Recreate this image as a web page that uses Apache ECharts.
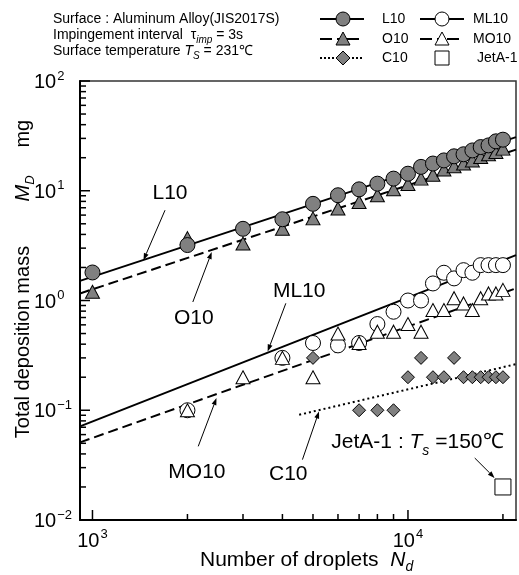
<!DOCTYPE html>
<html><head><meta charset="utf-8">
<script src="https://cdn.jsdelivr.net/npm/echarts@6/dist/echarts.min.js"></script>
<style>html,body{margin:0;padding:0;background:#fff}#c{width:519px;height:575px}</style>
</head><body><div id="c"></div>
<script>
// ---------- data ----------
const N_ALL = [1000,2000,3000,4000,5000,6000,7000,8000,9000,10000,11000,12000,13000,14000,15000,16000,17000,18000,19000,20000];
const L10 = [1.8,3.2,4.5,5.5,7.6,9.1,10.3,11.6,12.9,14.3,16.5,17.7,18.9,20.6,21.5,23.3,25,25.9,28.2,29.2];
const O10 = [1.2,3.7,3.3,4.5,5.6,6.9,7.9,9.1,10.3,11.5,12.9,14.0,15.6,16.7,17.7,18.9,20.3,21.5,22.5,24.2];
const ML10_N = [2000,4000,5000,6000,7000,8000,9000,10000,11000,12000,13000,14000,15000,16000,17000,18000,19000,20000];
const ML10 = [0.1,0.3,0.41,0.39,0.41,0.61,0.79,1.0,1.0,1.43,1.79,1.59,1.89,1.79,2.1,2.1,2.1,2.1];
const MO10_N = [2000,3000,4000,5000,6000,7000,8000,9000,10000,11000,12000,13000,14000,15000,16000,17000,18000,19000,20000];
const MO10 = [0.1,0.2,0.3,0.2,0.5,0.41,0.52,0.52,0.61,0.52,0.82,0.82,1.05,0.94,0.82,1.05,1.16,1.16,1.25];
const C10_N = [5000,7000,8000,9000,10000,11000,12000,13000,14000,15000,16000,17000,18000,19000,20000];
const C10 = [0.3,0.1,0.1,0.1,0.2,0.3,0.2,0.2,0.3,0.2,0.2,0.2,0.2,0.2,0.2];
const JETA_N = [20000];
const JETA = [0.02];
// fitted power-law lines (end points in data units)
const L10_FIT = [[913,1.51],[22000,30.8]];
const O10_FIT = [[913,1.16],[22000,23.7]];
const ML10_FIT = [[913,0.0713],[22000,2.59]];
const MO10_FIT = [[913,0.051],[22000,1.29]];
const C10_FIT = [[4520,0.091],[22000,0.263]];
// axes
const X_MIN = 913, X_MAX = 22000, Y_MIN = 0.01, Y_MAX = 100;
const X_MAJOR = [1000,10000];
const X_MINOR = [2000,3000,4000,5000,6000,7000,8000,9000,20000];
const Y_MAJOR = [0.01,0.1,1,10,100];
const Y_MINOR = [0.02,0.03,0.04,0.05,0.06,0.07,0.08,0.09,0.2,0.3,0.4,0.5,0.6,0.7,0.8,0.9,2,3,4,5,6,7,8,9,20,30,40,50,60,70,80,90];
// annotations: [text, textPos, arrowTail, arrowTip]
const ANNOT = [
  ['L10',  [1761,9.49],  [1698,6.65],  [1451,2.33]],
  ['O10',  [2095,0.693], [2080,0.969], [2388,2.76]],
  ['ML10', [4520,1.22],  [4101,0.943], [3591,0.343]],
  ['MO10', [2143,0.027], [2164,0.0469],[2472,0.129]],
  ['C10',  [4174,0.026], [4629,0.0355],[5224,0.0975]]
];
const JETA_NOTE = {pos:[10715,0.0486], tail:[16280,0.0367], tip:[18820,0.0242]};

// ---------- chart ----------
const FONT = '"Liberation Sans", Arial, Helvetica, sans-serif';
const GRAY = '#808080';
const zip = (xs, ys) => xs.map((x, i) => [x, ys[i]]);
function powLabel(v){
  const lg = Math.log10(v), e = Math.round(lg);
  if (Math.abs(lg - e) > 1e-6) return '';
  return '{b|10}{s|' + (e < 0 ? '\u2212' + (-e) : e) + '}';
}
const labelRich = {
  b:{fontSize:20, fontFamily:FONT, color:'#000', verticalAlign:'bottom'},
  s:{fontSize:13, fontFamily:FONT, color:'#000', verticalAlign:'bottom', padding:[0,0,10,1]}
};
const tickData = [
  ...X_MAJOR.map(v => [v, Y_MIN, 0, 1]), ...X_MINOR.map(v => [v, Y_MIN, 0, 0]),
  ...Y_MAJOR.map(v => [X_MIN, v, 1, 1]), ...Y_MINOR.map(v => [X_MIN, v, 1, 0])
];
function fitLine(name, data, type){
  return {name, type:'line', data, showSymbol:false, symbol:'none', z:2,
    lineStyle:{color:'#000', width:2, type}, silent:true};
}
function scat(name, data, symbol, size, fill){
  return {name, type:'scatter', data, symbol, symbolSize:size, z:3,
    itemStyle:{color:fill, borderColor:'#000', borderWidth:1, opacity:1}};
}
const chart = echarts.init(document.getElementById('c'), null, {renderer:'canvas'});
chart.setOption({
  animation:false,
  backgroundColor:'#fff',
  grid:{left:80, top:81, width:438, height:439, show:true, borderColor:'#333', borderWidth:1.5, containLabel:false},
  xAxis:{type:'log', logBase:10, min:X_MIN, max:X_MAX,
    axisLine:{show:true, lineStyle:{color:'#000', width:2}},
    axisTick:{show:false}, splitLine:{show:false}, minorTick:{show:false},
    axisLabel:{show:true, margin:8, formatter:powLabel, rich:labelRich, showMinLabel:true, showMaxLabel:true}},
  yAxis:{type:'log', logBase:10, min:Y_MIN, max:Y_MAX,
    axisLine:{show:true, lineStyle:{color:'#000', width:2}},
    axisTick:{show:false}, splitLine:{show:false},
    axisLabel:{show:true, margin:46, align:'left', formatter:powLabel, rich:labelRich}},
  series:[
    fitLine('L10 fit', L10_FIT, 'solid'),
    fitLine('O10 fit', O10_FIT, [10,5]),
    fitLine('ML10 fit', ML10_FIT, 'solid'),
    fitLine('MO10 fit', MO10_FIT, [10,5]),
    fitLine('C10 fit', C10_FIT, [2,3]),
    scat('O10', zip(N_ALL, O10), 'triangle', [14,13], GRAY),
    scat('L10', zip(N_ALL, L10), 'circle', 15, GRAY),
    scat('ML10', zip(ML10_N, ML10), 'circle', 15, '#fff'),
    scat('MO10', zip(MO10_N, MO10), 'triangle', [14,13], '#fff'),
    scat('C10', zip(C10_N, C10), 'diamond', 13, GRAY),
    scat('JetA-1', zip(JETA_N, JETA), 'rect', 16, '#fff'),
    {type:'custom', name:'ticks', data:tickData, z:5, silent:true,
      renderItem:function(params, api){
        const p = api.coord([api.value(0), api.value(1)]);
        const len = api.value(3) ? 10 : 6;
        const shape = api.value(2) === 0
          ? {x1:p[0], y1:p[1], x2:p[0], y2:p[1]-len}
          : {x1:p[0], y1:p[1], x2:p[0]+len, y2:p[1]};
        return {type:'line', shape, style:{stroke:'#000', lineWidth:1.5}};
      }}
  ]
});

// ---------- graphics (texts, legend, annotations) ----------
const g = [];
const txt = (x, y, text, size, rich, extra) => Object.assign({type:'text', x, y, z:10, style:Object.assign({
  text, fontSize:size, fontFamily:FONT, fill:'#000', verticalAlign:'middle', align:'left', rich:rich||{}}, extra||{})});
const sm = {
  n:{fontSize:14, fontFamily:FONT, verticalAlign:'bottom', padding:[0,0,3,0]},
  i:{fontSize:14, fontFamily:FONT, fontStyle:'italic', verticalAlign:'bottom', padding:[0,0,3,0]},
  sub:{fontSize:10, fontFamily:FONT, fontStyle:'italic', verticalAlign:'bottom'}
};
g.push(txt(53, 21, '{n|Surface : Aluminum Alloy(JIS2017S)}', 14, sm));
g.push(txt(53, 37, '{n|Impingement interval  \u03c4}{sub|imp}{n| = 3s}', 14, sm));
g.push(txt(53, 53, '{n|Surface temperature }{i|T}{sub|S}{n| = 231\u2103}', 14, sm));

// legend
function legLine(x1, x2, y, dash){ g.push({type:'line', z:10, shape:{x1, y1:y, x2, y2:y}, style:{stroke:'#000', lineWidth:2, lineDash:dash||null}}); }
function legCircle(cx, cy, fill){ g.push({type:'circle', z:11, shape:{cx, cy, r:7}, style:{fill, stroke:'#000', lineWidth:1}}); }
function legTri(cx, cy, fill){ g.push({type:'polygon', z:11, shape:{points:[[cx,cy-7],[cx+7,cy+6],[cx-7,cy+6]]}, style:{fill, stroke:'#000', lineWidth:1}}); }
function legDia(cx, cy, fill){ g.push({type:'polygon', z:11, shape:{points:[[cx,cy-7],[cx+7,cy],[cx,cy+7],[cx-7,cy]]}, style:{fill, stroke:'#000', lineWidth:1}}); }
const r1 = 19, r2 = 39, r3 = 58;
legLine(320, 364, r1); legCircle(343, r1, GRAY); g.push(txt(382, r1, 'L10', 14));
legLine(320, 364, r2, [12,5,5,5]); legTri(343, r2, GRAY); g.push(txt(382, r2, 'O10', 14));
legLine(320, 364, r3, [2,2]); legDia(343, r3, GRAY); g.push(txt(382, r3, 'C10', 14));
legLine(420, 464, r1); legCircle(442, r1, '#fff'); g.push(txt(473, r1, 'ML10', 14));
legLine(420, 464, r2, [12,5,5,5]); legTri(442, r2, '#fff'); g.push(txt(473, r2, 'MO10', 14));
g.push({type:'rect', z:11, shape:{x:435, y:r3-7, width:14, height:14}, style:{fill:'#fff', stroke:'#000', lineWidth:1}});
g.push(txt(477, r3, 'JetA-1', 14));

// axis titles
const tr = {
  n:{fontSize:20, fontFamily:FONT, verticalAlign:'bottom', padding:[0,0,4,0]},
  i:{fontSize:20, fontFamily:FONT, fontStyle:'italic', verticalAlign:'bottom', padding:[0,0,4,0]},
  sub:{fontSize:13, fontFamily:FONT, fontStyle:'italic', verticalAlign:'bottom'}
};
const trx = {
  n:{fontSize:21, fontFamily:FONT, verticalAlign:'bottom', padding:[0,0,4,0]},
  i:{fontSize:21, fontFamily:FONT, fontStyle:'italic', verticalAlign:'bottom', padding:[0,0,4,0]},
  sub:{fontSize:14, fontFamily:FONT, fontStyle:'italic', verticalAlign:'bottom'}
};
g.push(txt(200, 562, '{n|Number of droplets  }{i|N}{sub|d}', 21, trx));
g.push(Object.assign(txt(25, 279, '{n|Total deposition mass        }{i|M}{sub|D}{n|     mg}', 20, tr, {align:'center'}), {rotation:Math.PI/2}));

// annotations with arrows
const px = v => chart.convertToPixel({gridIndex:0}, v);
function arrow(tail, tip){
  const a = px(tail), b = px(tip);
  const dx = b[0]-a[0], dy = b[1]-a[1], L = Math.hypot(dx, dy), ux = dx/L, uy = dy/L;
  const hl = 7, hw = 2.5;
  const bx = b[0]-ux*hl, by = b[1]-uy*hl;
  g.push({type:'line', z:9, shape:{x1:a[0], y1:a[1], x2:bx, y2:by}, style:{stroke:'#000', lineWidth:1}});
  g.push({type:'polygon', z:9, shape:{points:[[b[0],b[1]],[bx-uy*hw, by+ux*hw],[bx+uy*hw, by-ux*hw]]}, style:{fill:'#000'}});
}
ANNOT.forEach(([t, pos, tail, tip]) => {
  const p = px(pos);
  g.push(txt(p[0], p[1], t, 21, null, {align:'center'}));
  arrow(tail, tip);
});
const jr = {
  n:{fontSize:21, fontFamily:FONT, verticalAlign:'bottom', padding:[0,0,5,0]},
  i:{fontSize:21, fontFamily:FONT, fontStyle:'italic', verticalAlign:'bottom', padding:[0,0,5,0]},
  sub:{fontSize:14, fontFamily:FONT, fontStyle:'italic', verticalAlign:'bottom'}
};
const jp = px(JETA_NOTE.pos);
g.push(txt(jp[0], jp[1], '{n|JetA-1 : }{i|T}{sub|s}{n| =150\u2103}', 21, jr, {align:'center'}));
arrow(JETA_NOTE.tail, JETA_NOTE.tip);

chart.setOption({graphic:g});
</script>
</body></html>
